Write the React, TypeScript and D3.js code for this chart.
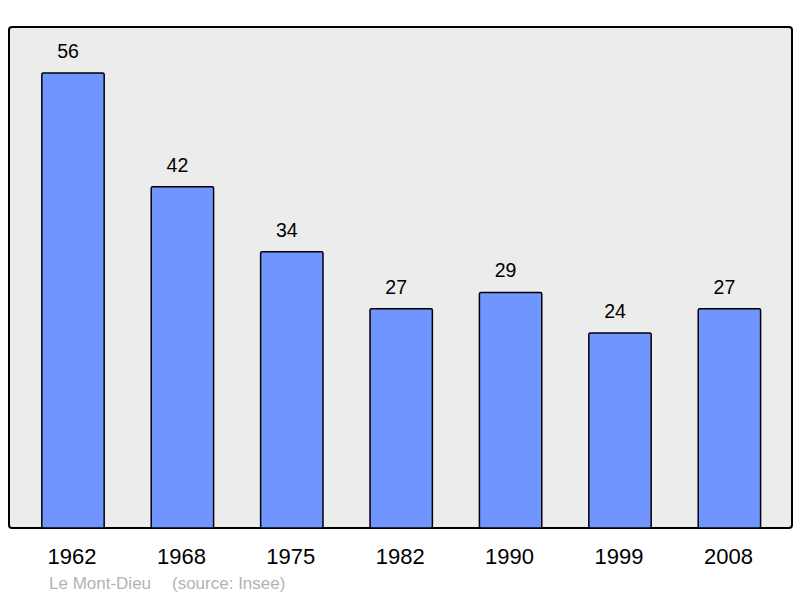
import * as d3 from "d3";
import React from "react";

const years = ["1962", "1968", "1975", "1982", "1990", "1999", "2008"];
const population = [56, 42, 34, 27, 29, 24, 27];
const commune = "Le Mont-Dieu";
const source = "(source: Insee)";

export default function App() {
  const svgWidth = 800;
  const svgHeight = 598;
  const panel = { left: 9, top: 27, right: 792, bottom: 528 };

  const x = d3.scaleBand<string>()
    .domain(years)
    .range([18.3, 784.1])
    .paddingInner(0.43)
    .paddingOuter(0.215);

  const y = d3.scaleLinear()
    .domain([0, 56])
    .range([panel.bottom, 73]);

  const bars = years.map((yr, i) => {
    const v = population[i];
    const bx = x(yr) as number;
    const cx = bx + x.bandwidth() / 2;
    return (
      <g key={yr}>
        <rect x={bx} y={y(v)} width={x.bandwidth()} height={panel.bottom - y(v)}
          fill="#7095ff" stroke="#000" strokeWidth="1.5" rx="1.5" />
        <text x={cx - 5} y={y(v) - 15} textAnchor="middle"
          fontSize="19.5" fill="#000">{v}</text>
        <text x={cx - 1} y={564} textAnchor="middle"
          fontSize="22" fill="#000">{yr}</text>
      </g>
    );
  });

  return (
    <svg width={svgWidth} height={svgHeight}
      style={{ position: "absolute", left: 0, top: 0, fontFamily: "'Liberation Sans', Arial, sans-serif" }}>
      <rect x={0} y={0} width={svgWidth} height={svgHeight} fill="#fff" />
      <rect x={panel.left} y={panel.top} width={panel.right - panel.left} height={panel.bottom - panel.top}
        fill="#ececec" stroke="#000" strokeWidth="2" rx="3" />
      {bars}
      <text x={49} y={589} fontSize="17" fill="#b3b3b3">{commune}</text>
      <text x={172} y={589} fontSize="17" fill="#b3b3b3">{source}</text>
    </svg>
  );
}
